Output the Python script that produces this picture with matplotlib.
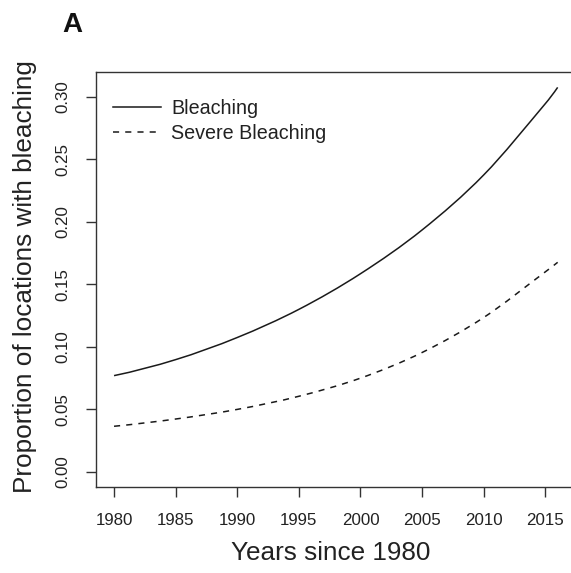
import matplotlib
matplotlib.use("Agg")
import matplotlib.pyplot as plt
from matplotlib.path import Path
from matplotlib.patches import PathPatch
from matplotlib.lines import Line2D

plt.rcParams["font.family"] = ["Liberation Sans", "DejaVu Sans"]

# Fitted proportions of locations with bleaching, by year
years = [1980, 1985, 1990, 1995, 2000, 2005, 2010, 2015, 2016]
bleaching = [0.077, 0.0898, 0.1075, 0.130, 0.1585, 0.1935, 0.2375, 0.2945, 0.3075]
severe_bleaching = [0.0365, 0.0423, 0.0500, 0.0605, 0.0750, 0.0955, 0.1235, 0.1600, 0.1676]

x_ticks = [1980, 1985, 1990, 1995, 2000, 2005, 2010, 2015]
y_ticks = [0.00, 0.05, 0.10, 0.15, 0.20, 0.25, 0.30]


def smooth_path(x, y):
    """Cubic Hermite curve through (x, y), returned as a Bezier path."""
    n = len(x)
    m = [0.0] * n
    for i in range(1, n - 1):
        m[i] = (y[i + 1] - y[i - 1]) / (x[i + 1] - x[i - 1])
    m[0] = 2 * (y[1] - y[0]) / (x[1] - x[0]) - m[1]
    m[-1] = 2 * (y[-1] - y[-2]) / (x[-1] - x[-2]) - m[-2]
    verts = [(x[0], y[0])]
    codes = [Path.MOVETO]
    for i in range(n - 1):
        h = x[i + 1] - x[i]
        verts += [(x[i] + h / 3, y[i] + m[i] * h / 3),
                  (x[i + 1] - h / 3, y[i + 1] - m[i + 1] * h / 3),
                  (x[i + 1], y[i + 1])]
        codes += [Path.CURVE4] * 3
    return Path(verts, codes)


W, H = 571, 573
fig = plt.figure(figsize=(W / 100, H / 100), dpi=100)
fig.patch.set_facecolor("white")

# plot region in pixel terms (left, bottom, width, height)
left, top, bottom, right = 96.3, 72.0, 487.3, 575.4
ax = fig.add_axes([left / W, 1 - bottom / H, (right - left) / W, (bottom - top) / H])

ink = "#1a1a1a"
dash = (0, (4, 4))
ax.add_patch(PathPatch(smooth_path(years, bleaching), fill=False,
                       edgecolor=ink, lw=1.1))
ax.add_patch(PathPatch(smooth_path(years, severe_bleaching), fill=False,
                       edgecolor=ink, lw=1.1, linestyle=dash))

ax.set_xlim(1978.56, 2017.44)
ax.set_ylim(-0.0123, 0.3198)
ax.set_xticks(x_ticks)
ax.set_xticklabels([str(t) for t in x_ticks])
ax.set_yticks(y_ticks)
ax.set_yticklabels([f"{t:.2f}" for t in y_ticks], rotation=90, va="center")

for s in ax.spines.values():
    s.set_color("#333333")
    s.set_linewidth(1.0)
ax.spines["right"].set_visible(False)

ax.tick_params(axis="both", direction="out", length=7.5, width=1.0,
               color="#333333", labelsize=12.2, labelcolor="#222222")
ax.tick_params(axis="x", pad=11)
ax.tick_params(axis="y", pad=11)

handles = [Line2D([], [], color=ink, lw=1.1, label="Bleaching"),
           Line2D([], [], color=ink, lw=1.1, linestyle=dash, label="Severe Bleaching")]
leg = ax.legend(handles=handles, loc="upper left", bbox_to_anchor=(0.035, 0.935),
                frameon=False, fontsize=14.2, handlelength=2.45, handletextpad=0.5,
                labelspacing=0.28, borderpad=0, borderaxespad=0)
for t in leg.get_texts():
    t.set_color("#222222")

fig.text(331 / W, 1 - 553 / H, "Years since 1980", ha="center", va="center",
         fontsize=18.8, color="#222222")
fig.text(25 / W, 1 - 277 / H, "Proportion of locations with bleaching",
         ha="center", va="center", rotation=90, fontsize=18.8, color="#222222")
fig.text(72 / W, 1 - 25 / H, "A", ha="center", va="center", fontsize=20,
         fontweight="bold", color="#111111")

fig.savefig("out.png", dpi=100, facecolor="white")
